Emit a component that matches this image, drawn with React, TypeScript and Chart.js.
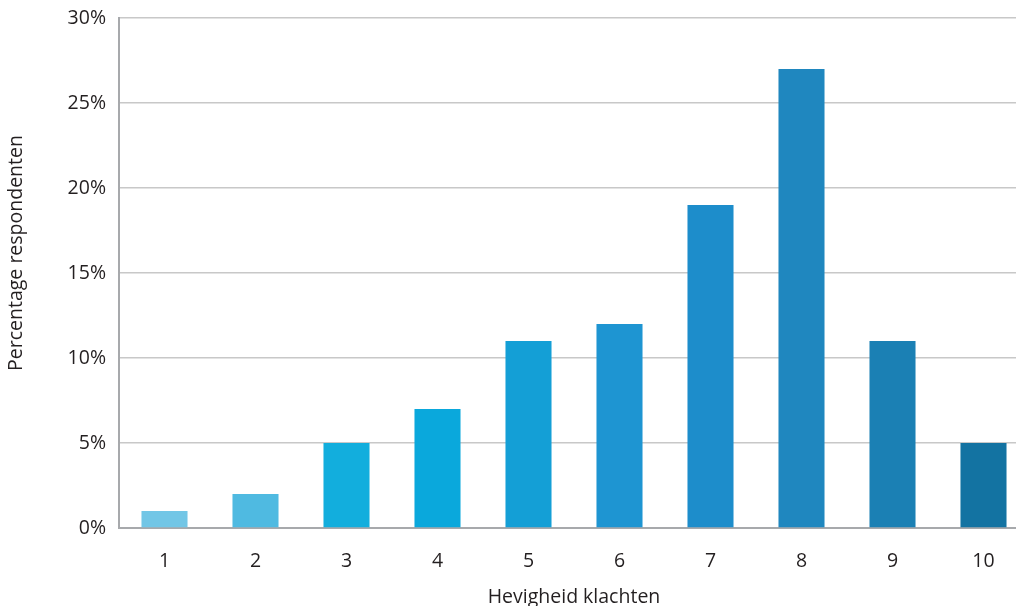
import React, { useEffect, useRef } from "react";
import { Chart, registerables } from "chart.js";

Chart.register(...registerables);

const categories = ["1", "2", "3", "4", "5", "6", "7", "8", "9", "10"];
const values = [1, 2, 5, 7, 11, 12, 19, 27, 11, 5];
const barColors = [
  "#72c6e6", "#4fbae1", "#12aedd", "#0aa8dc", "#149fd6",
  "#1e95d2", "#1d8dcb", "#1f87bf", "#1b80b4", "#1373a2",
];
const yTitle = "Percentage respondenten";
const xTitle = "Hevigheid klachten";

const FONT = "'Open Sans', sans-serif";
const FS = 19.5;
const TEXT = "#231f20";

const yTitlePlugin = {
  id: "yTitlePlugin",
  afterDraw(chart: any) {
    const ctx = chart.ctx;
    const area = chart.chartArea;
    ctx.save();
    ctx.fillStyle = TEXT;
    ctx.font = `${FS}px ${FONT}`;
    ctx.textAlign = "center";
    ctx.textBaseline = "middle";
    ctx.translate(16, (area.top + area.bottom) / 2 - 20);
    ctx.rotate(-Math.PI / 2);
    ctx.fillText(yTitle, 0, 0);
    ctx.restore();
  },
};

export default function App() {
  const ref = useRef<HTMLCanvasElement | null>(null);

  useEffect(() => {
    if (!ref.current) return;
    const chart = new Chart(ref.current, {
      type: "bar",
      data: {
        labels: categories,
        datasets: [
          {
            data: values,
            backgroundColor: barColors,
            barPercentage: 0.506,
            categoryPercentage: 1,
            borderWidth: 0,
          },
        ],
      },
      plugins: [yTitlePlugin],
      options: {
        animation: false,
        responsive: false,
        maintainAspectRatio: false,
        layout: { padding: { top: 18, right: 11, bottom: 0, left: 0 } },
        plugins: { legend: { display: false }, tooltip: { enabled: false } },
        scales: {
          x: {
            grid: { display: false, drawTicks: false },
            border: { display: true, color: "#a7a9ac", width: 2 },
            ticks: {
              color: TEXT,
              font: { family: FONT, size: FS },
              padding: 22,
              maxRotation: 0,
            },
            title: {
              display: true,
              text: xTitle,
              color: TEXT,
              font: { family: FONT, size: FS },
              padding: { top: 0, bottom: -3 },
            },
            afterFit: (scale: any) => {
              scale.height = 78;
              scale.paddingLeft = 0;
              scale.paddingRight = 0;
            },
          },
          y: {
            min: 0,
            max: 30,
            grid: { color: "#c8c8c8", lineWidth: 1.5, drawTicks: false },
            border: { display: true, color: "#a7a9ac", width: 2 },
            ticks: {
              stepSize: 5,
              color: TEXT,
              font: { family: FONT, size: FS },
              padding: 13,
              callback: (v: any) => v + "%",
            },
            title: { display: false },
            afterFit: (scale: any) => {
              scale.width = 119;
              scale.paddingTop = 0;
              scale.paddingBottom = 0;
            },
          },
        },
      },
    });
    return () => chart.destroy();
  }, []);

  return (
    <div
      style={{
        position: "fixed",
        left: 0,
        top: 0,
        width: 1016,
        height: 606,
        overflow: "hidden",
        background: "#fff",
      }}
    >
      <canvas ref={ref} width={1040} height={606} style={{ width: 1040, height: 606, display: "block" }} />
    </div>
  );
}
